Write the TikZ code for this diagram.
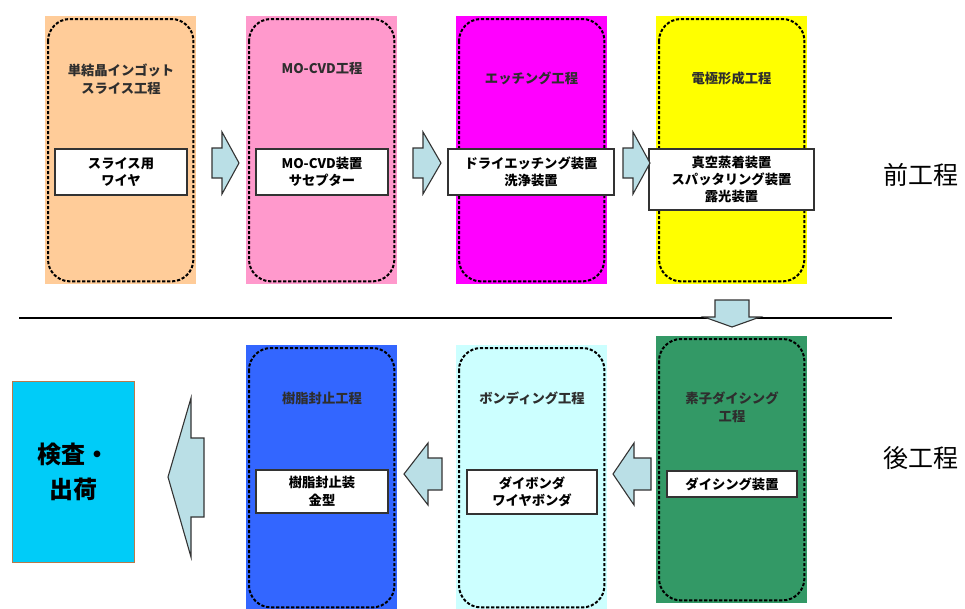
\documentclass[tikz,border=0pt]{standalone}
\usepackage{fontspec}
\setmainfont{Noto Sans CJK JP}
\definecolor{peach}{HTML}{FFCC99}
\definecolor{pinkc}{HTML}{FF99CC}
\definecolor{magentac}{HTML}{FF00FF}
\definecolor{yellowc}{HTML}{FFFF00}
\definecolor{bluec}{HTML}{3366FF}
\definecolor{lcyan}{HTML}{CCFFFF}
\definecolor{greenc}{HTML}{339966}
\definecolor{cyanbox}{HTML}{00CCF8}
\definecolor{brownc}{HTML}{B97A4A}
\definecolor{arrowfill}{HTML}{BADFE6}
\definecolor{titlegray}{HTML}{2E2E2E}
\begin{document}
\begin{tikzpicture}[x=1pt,y=-1pt,
  stage/.style={rectangle, fill=#1, draw=none, anchor=north west, inner sep=0pt,
    minimum width=151pt, minimum height=268pt},
  dashbox/.style={draw=black, line width=2pt, dash pattern=on 3.2pt off 1.8pt, rounded corners=22pt},
  title/.style={font=\fontsize{13.3}{18}\selectfont\bfseries, text=titlegray, align=center, inner sep=0pt},
  equip/.style={draw=black!80, line width=1.1pt, fill=white, align=center, inner sep=0pt,
    font=\fontsize{13.3}{17.5}\selectfont\bfseries},
  blockarrow/.style={draw=black!80, line width=1.1pt, fill=arrowfill, line join=miter},
  phase/.style={font=\fontsize{25}{30}\selectfont, text=black, inner sep=0pt}
]
\useasboundingbox (0,0) rectangle (965,608);

% stage boxes
\node[stage=peach] (s1) at (45,16) {};
\node[stage=pinkc] (s2) at (246,16) {};
\node[stage=magentac] (s3) at (456,16) {};
\node[stage=yellowc] (s4) at (656,16) {};
\node[stage=bluec, minimum height=265pt] (b1) at (246,345) {};
\node[stage=lcyan, minimum height=265pt] (b2) at (456,345) {};
\node[stage=greenc, minimum height=267pt] (b3) at (656,336) {};

\foreach \n in {s1,s2,s3,s4,b1,b2,b3}
  \draw[dashbox] ([xshift=3pt,yshift=-3pt]\n.north west) rectangle ([xshift=-3pt,yshift=3pt]\n.south east);

% titles
\node[title] (t1) at (121,79) {単結晶インゴット\\スライス工程};
\node[title] (t2) at (322,68) {MO-CVD工程};
\node[title] (t3) at (531.5,78) {エッチング工程};
\node[title] (t4) at (731.5,78) {電極形成工程};
\node[title] (t5) at (322,398) {樹脂封止工程};
\node[title] (t6) at (532,398) {ボンディング工程};
\node[title] (t7) at (732,407) {素子ダイシング\\工程};

% equipment boxes
\node[equip, minimum width=132pt, minimum height=46pt] (e1) at (121,172) {スライス用\\ワイヤ};
\node[equip, minimum width=132pt, minimum height=46pt] (e2) at (322,172) {MO-CVD装置\\サセプター};
\node[equip, minimum width=166pt, minimum height=46pt] (e3) at (531,172) {ドライエッチング装置\\洗浄装置};
\node[equip, minimum width=165pt, minimum height=61pt, font=\fontsize{13.3}{17}\selectfont\bfseries] (e4) at (731.5,179.5) {真空蒸着装置\\スパッタリング装置\\露光装置};
\node[equip, minimum width=132pt, minimum height=43pt] (e5) at (322,491.5) {樹脂封止装\\金型};
\node[equip, minimum width=130pt, minimum height=44pt] (e6) at (532,492) {ダイボンダ\\ワイヤボンダ};
\node[equip, minimum width=130pt, minimum height=26pt] (e7) at (732,484) {ダイシング装置};

% block arrows, top row (pointing right)
\draw[blockarrow] (212,148) -- (222,148) -- (222,132) -- (239,163) -- (222,194) -- (222,178) -- (212,178) -- cycle;
\draw[blockarrow] (413,148) -- (423,148) -- (423,132) -- (441,163) -- (423,194) -- (423,178) -- (413,178) -- cycle;
\draw[blockarrow] (623,148) -- (633,148) -- (633,132) -- (650,163) -- (633,194) -- (633,178) -- (623,178) -- cycle;

% separator line and down arrow
\draw[line width=2pt] (19,317.5) -- (892,317.5);
\draw[blockarrow] (715,300) -- (749,300) -- (749,317) -- (760,317) -- (732,327) -- (704,317) -- (715,317) -- cycle;

% block arrows, bottom row (pointing left)
\draw[blockarrow] (651,458) -- (634,458) -- (634,443) -- (613,474) -- (634,505) -- (634,490) -- (651,490) -- cycle;
\draw[blockarrow] (442,458) -- (428,458) -- (428,443) -- (404,474) -- (428,505) -- (428,490) -- (442,490) -- cycle;
\draw[blockarrow] (204,438) -- (191,438) -- (191,398) -- (168,477) -- (191,557) -- (191,517) -- (204,517) -- cycle;

% inspection / shipping
\node[draw=brownc, line width=0.8pt, fill=cyanbox, minimum width=122pt, minimum height=181pt,
  inner sep=0pt, align=center, font=\fontsize{24}{35}\selectfont\bfseries] (k) at (73,471.5) {検査・\\出荷};

% phase labels
\node[phase] (p1) at (921,175) {前工程};
\node[phase] (p2) at (921,458) {後工程};
\end{tikzpicture}
\end{document}
